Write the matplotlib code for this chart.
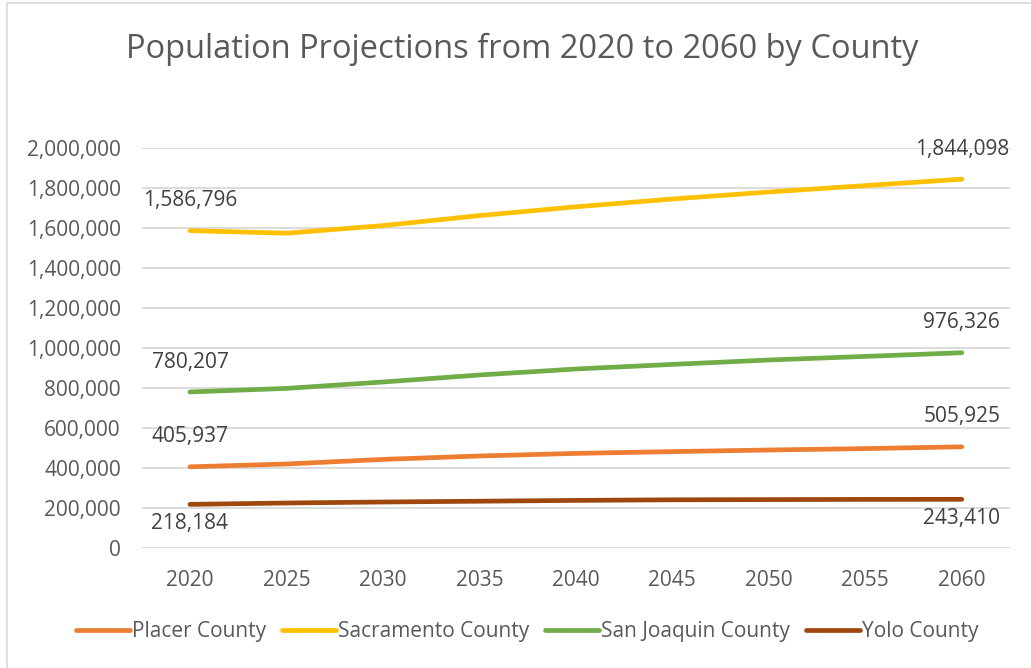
import matplotlib
matplotlib.use("Agg")
import matplotlib.pyplot as plt
from matplotlib.ticker import FuncFormatter, MultipleLocator
from matplotlib.lines import Line2D
from matplotlib.patches import Rectangle

plt.rcParams['font.family'] = ['Open Sans', 'DejaVu Sans']

years = ["2020", "2025", "2030", "2035", "2040", "2045", "2050", "2055", "2060"]
placer = [405937, 420000, 443000, 460000, 473000, 482000, 490000, 497000, 505925]
sacramento = [1586796, 1574000, 1612000, 1662000, 1706000, 1745000, 1780000, 1812000, 1844098]
san_joaquin = [780207, 798000, 830000, 865000, 895000, 918000, 940000, 958000, 976326]
yolo = [218184, 225000, 230000, 234000, 238000, 241000, 242000, 243000, 243410]

series = [
    ("Placer County", placer, "#ED7D31", "above"),
    ("Sacramento County", sacramento, "#FFC000", "above"),
    ("San Joaquin County", san_joaquin, "#70AD47", "above"),
    ("Yolo County", yolo, "#9E480E", "below"),
]

W, H = 1031, 668
fig = plt.figure(figsize=(W / 100, H / 100), dpi=100)
fig.patch.set_facecolor("white")

# chart frame
fig.patches.append(Rectangle((7 / W, -0.01), 1.02, (H - 3) / H + 0.01, transform=fig.transFigure,
                             facecolor="none", edgecolor="#D9D9D9", linewidth=1.2))

left, right = 141.75, 1010
top, bottom = 148, 548
ax = fig.add_axes([left / W, 1 - bottom / H, (right - left) / W, (bottom - top) / H])

fs = 15
x = list(range(len(years)))
for name, vals, color, pos in series:
    ax.plot(x, vals, color=color, linewidth=3.4, solid_capstyle="round", label=name, zorder=3)
    for i in (0, len(vals) - 1):
        lab = f"{vals[i]:,}"
        if pos == "above":
            ax.annotate(lab, (x[i], vals[i]), xytext=(0, 14), textcoords="offset points",
                        ha="center", va="bottom", fontsize=fs, color="#404040")
        else:
            ax.annotate(lab, (x[i], vals[i]), xytext=(0, -6), textcoords="offset points",
                        ha="center", va="top", fontsize=fs, color="#404040")

ax.set_xlim(-0.5, len(years) - 0.5)
ax.set_ylim(0, 2000000)
ax.set_xticks(x)
ax.set_xticklabels(years)
ax.yaxis.set_major_locator(MultipleLocator(200000))
ax.yaxis.set_major_formatter(FuncFormatter(lambda v, p: f"{int(v):,}"))
ax.grid(axis="y", color="#D9D9D9", linewidth=1.3)
ax.set_axisbelow(True)
for s in ax.spines.values():
    s.set_visible(False)
ax.tick_params(axis="both", length=0, labelsize=fs, colors="#595959")
ax.tick_params(axis="x", pad=16)
ax.tick_params(axis="y", pad=15)

fig.text(522 / W, 1 - 49 / H, "Population Projections from 2020 to 2060 by County",
         ha="center", va="center", fontsize=23.5, color="#595959")

handles = [Line2D([0], [0], color=c, linewidth=3.4, solid_capstyle="round") for _, _, c, _ in series]
fig.legend(handles, [n for n, _, _, _ in series], loc="center", bbox_to_anchor=(527 / W, 1 - 632 / H),
           ncol=4, frameon=False, fontsize=15, labelcolor="#595959", handlelength=2.6,
           handletextpad=0.1, columnspacing=0.75)

fig.savefig("out.png", dpi=100)
